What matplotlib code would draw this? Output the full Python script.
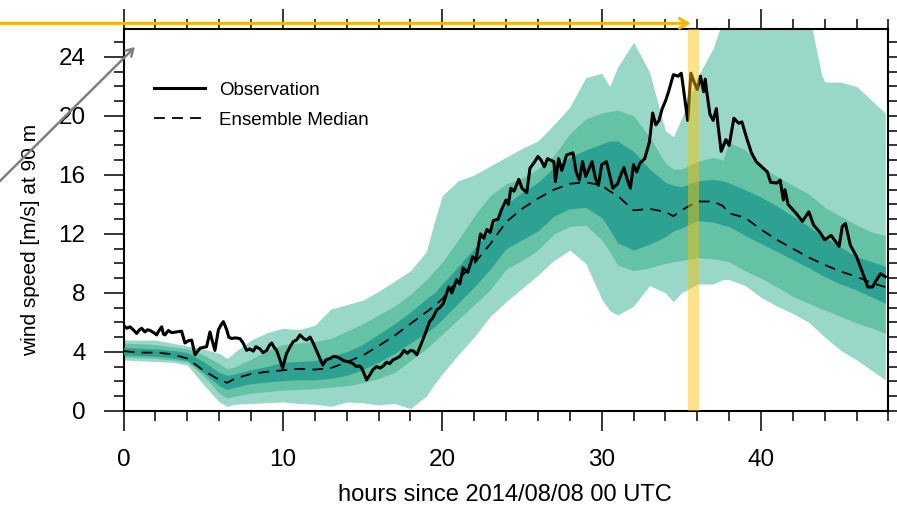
import matplotlib
matplotlib.use('Agg')
import matplotlib.pyplot as plt
from matplotlib.ticker import MultipleLocator
from matplotlib.lines import Line2D

plt.rcParams['font.family'] = ['Liberation Sans', 'DejaVu Sans']

# ---- ensemble spread (percentile envelopes) ----
band_hr = [0, 1, 2, 3, 4, 5, 6, 6.5, 7, 8, 9, 10, 11, 12, 13, 14, 15, 16, 17, 18, 19, 19.5,
    20, 21, 22, 23, 24, 25, 26, 27, 28, 29, 30, 30.5, 31, 32, 33, 34, 34.5, 35, 36, 37, 37.6,
    38, 39, 40, 41, 42, 43, 43.8, 44, 45, 46, 47, 47.8]
outer_hi = [4.8, 4.8, 4.8, 4.6, 4.4, 4.2, 3.9, 3.55, 4.0, 4.8, 5.3, 5.6, 5.5, 5.8, 6.9, 7.2, 7.5,
    8.1, 8.8, 9.5, 10.8, 12.8, 14.6, 15.6, 16.0, 16.6, 17.2, 17.8, 18.3, 19.4, 20.6, 22.6, 22.9,
    22.0, 23.3, 25.0, 23.0, 19.0, 18.6, 19.8, 22.6, 24.6, 26.5, 28.0, 28.0, 28.0, 28.0, 28.0,
    27.0, 22.8, 22.3, 22.3, 22.0, 21.0, 20.2]
mid_hi = [4.6, 4.55, 4.5, 4.35, 4.2, 3.8, 3.2, 2.85, 3.0, 3.5, 4.1, 4.5, 4.6, 4.7, 4.9, 5.4, 5.9,
    6.5, 7.1, 7.9, 8.9, 9.5, 10.1, 11.6, 13.2, 14.6, 15.4, 15.8, 16.4, 17.3, 18.8, 19.8, 20.2,
    20.3, 20.4, 20.0, 18.6, 16.8, 16.4, 16.4, 16.9, 17.2, 17.0, 18.2, 17.7, 16.6, 15.9, 15.3,
    14.7, 14.0, 13.8, 13.2, 12.6, 12.1, 11.9]
inner_hi = [4.3, 4.25, 4.2, 4.1, 3.95, 3.35, 2.6, 2.4, 2.5, 2.8, 3.0, 3.3, 3.35, 3.4, 3.7, 4.0,
    4.5, 5.2, 5.9, 6.7, 7.6, 8.0, 8.6, 9.8, 11.0, 12.2, 14.0, 14.8, 15.5, 16.5, 17.2, 17.7, 18.1,
    18.3, 18.3, 17.6, 16.4, 15.5, 15.3, 15.2, 15.6, 15.7, 15.6, 15.45, 15.0, 14.5, 13.9, 13.2,
    12.5, 11.9, 11.8, 11.1, 10.45, 10.1, 9.8]
median = [4.05, 3.95, 3.95, 3.85, 3.55, 2.75, 2.1, 1.9, 2.2, 2.5, 2.65, 2.75, 2.85, 2.8, 2.9,
    3.3, 3.75, 4.4, 5.1, 5.9, 6.7, 7.1, 7.6, 8.9, 10.0, 11.3, 12.8, 13.7, 14.4, 15.0, 15.4, 15.5,
    15.3, 14.9, 14.6, 13.6, 13.7, 13.5, 13.2, 13.6, 14.2, 14.2, 13.9, 13.4, 13.1, 12.3, 11.6,
    11.0, 10.4, 10.0, 9.9, 9.45, 9.1, 8.65, 8.4]
inner_lo = [3.8, 3.75, 3.7, 3.6, 3.4, 2.6, 1.7, 1.45, 1.6, 1.85, 1.95, 2.05, 2.1, 2.1, 2.2, 2.4,
    2.8, 3.3, 3.9, 4.6, 5.3, 5.7, 6.2, 7.3, 8.4, 9.6, 11.0, 11.6, 12.2, 13.2, 13.7, 13.8, 13.1,
    12.3, 11.4, 10.9, 11.3, 11.8, 12.2, 12.4, 12.9, 12.8, 12.6, 12.5, 11.9, 11.35, 10.8, 10.25,
    9.7, 9.2, 9.1, 8.6, 8.2, 7.7, 7.3]
mid_lo = [3.65, 3.6, 3.55, 3.45, 3.3, 2.4, 1.2, 0.85, 1.0, 1.2, 1.3, 1.4, 1.45, 1.5, 1.6, 1.7,
    1.9, 2.2, 2.6, 3.4, 4.2, 4.7, 5.2, 6.2, 7.2, 8.2, 9.6, 10.2, 10.9, 12.0, 12.5, 12.6, 11.6,
    10.8, 9.9, 9.5, 9.7, 10.0, 10.1, 10.2, 10.4, 10.3, 10.2, 10.1, 9.5, 9.0, 8.4, 7.75, 7.3,
    6.9, 6.85, 6.4, 5.95, 5.6, 5.25]
outer_lo = [3.45, 3.4, 3.35, 3.3, 3.1, 1.8, 0.6, 0.3, 0.45, 0.5, 0.55, 0.6, 0.5, 0.45, 0.3, 0.6,
    0.55, 0.4, 0.5, 0.15, 1.0, 1.8, 2.5, 3.8, 5.0, 6.4, 7.4, 8.3, 9.2, 10.2, 10.9, 10.0, 7.6,
    6.8, 6.5, 7.1, 8.5, 8.0, 7.4, 8.0, 8.6, 8.6, 8.9, 8.9, 8.5, 7.7, 7.1, 6.6, 6.0, 5.2, 5.0,
    4.1, 3.45, 2.7, 2.1]

# ---- observed wind speed at 90 m ----
obs_hr = [0.0, 0.2, 0.4, 0.6, 0.82, 1.0, 1.13, 1.34, 1.5, 1.66, 1.9, 2.07, 2.2, 2.39, 2.5, 2.6,
    2.81, 3.02, 3.3, 3.64, 3.85, 4.06, 4.27, 4.48, 4.8, 5.0, 5.21, 5.42, 5.6, 5.73, 5.95, 6.1,
    6.26, 6.47, 6.6, 6.78, 7.0, 7.3, 7.5, 7.72, 7.9, 8.14, 8.3, 8.56, 8.75, 8.98, 9.15, 9.29,
    9.45, 9.6, 9.8, 9.98, 10.1, 10.23, 10.45, 10.65, 10.85, 11.07, 11.3, 11.49, 11.7, 11.9,
    12.1, 12.3, 12.5, 12.7, 12.95, 13.2, 13.4, 13.6, 13.8, 14.0, 14.2, 14.4, 14.6, 14.8, 14.94,
    15.1, 15.25, 15.46, 15.65, 15.88, 16.1, 16.3, 16.5, 16.7, 16.9, 17.1, 17.35, 17.6, 17.8,
    18.0, 18.2, 18.4, 18.7, 18.95, 19.2, 19.4, 19.65, 19.85, 20.07, 20.25, 20.4, 20.6, 20.9,
    21.1, 21.3, 21.6, 21.9, 22.1, 22.4, 22.6, 22.8, 23.0, 23.2, 23.5, 23.7, 24.0, 24.15, 24.3,
    24.5, 24.8, 25.0, 25.3, 25.5, 25.8, 26.0, 26.2, 26.4, 26.6, 27.0, 27.1, 27.3, 27.5, 27.8,
    28.2, 28.4, 28.6, 28.8, 29.0, 29.4, 29.6, 29.8, 30.0, 30.3, 30.5, 30.7, 31.0, 31.2, 31.4,
    31.6, 31.8, 32.0, 32.2, 32.4, 32.7, 33.0, 33.2, 33.4, 33.6, 33.8, 34.0, 34.2, 34.5, 34.8,
    35.0, 35.2, 35.4, 35.6, 35.8, 36.0, 36.2, 36.4, 36.5, 36.6, 36.8, 37.0, 37.2, 37.3, 37.5,
    37.8, 38.0, 38.3, 38.6, 38.8, 39.1, 39.4, 39.7, 40.0, 40.4, 40.6, 41.0, 41.2, 41.4, 41.5,
    41.7, 42.2, 42.6, 43.0, 43.3, 43.7, 44.0, 44.4, 44.9, 45.1, 45.3, 45.6, 46.0, 46.4, 46.7,
    47.0, 47.2, 47.5, 47.8]
obs_ws = [5.8, 5.6, 5.7, 5.5, 5.25, 5.5, 5.6, 5.35, 5.5, 5.45, 5.3, 5.15, 5.4, 5.7, 5.2, 5.15,
    5.45, 5.3, 5.35, 5.4, 4.6, 4.75, 4.8, 3.8, 4.25, 4.3, 4.35, 5.35, 4.6, 4.1, 5.5, 5.8,
    6.05, 5.5, 5.0, 4.9, 4.95, 4.9, 4.6, 4.1, 4.2, 4.05, 4.35, 4.2, 3.95, 4.1, 4.45, 4.6,
    4.3, 4.1, 3.5, 2.9, 3.4, 3.9, 4.35, 4.7, 4.8, 5.15, 4.9, 4.8, 5.0, 4.6,
    4.1, 3.6, 3.1, 3.45, 3.55, 3.7, 3.65, 3.55, 3.4, 3.35, 3.3, 3.2, 3.0, 3.05, 2.9,
    2.5, 2.1, 2.45, 2.8, 3.0, 2.9, 3.05, 3.3, 3.2, 3.45, 3.55, 3.7, 4.1, 3.9,
    4.1, 4.05, 3.8, 4.6, 5.3, 6.05, 6.3, 6.85, 7.0, 7.3, 7.9, 8.4, 8.0, 8.9,
    8.6, 9.7, 9.4, 10.45, 10.2, 12.0, 11.7, 12.3, 12.1, 12.9, 13.0, 13.6, 14.3, 14.0, 15.1,
    14.9, 15.7, 15.1, 14.8, 16.45, 16.9, 17.25, 17.0, 16.55, 17.1, 16.9, 15.55, 17.1, 16.3, 17.35,
    17.5, 16.2, 15.65, 16.9, 15.9, 16.9, 15.8, 15.3, 16.7, 16.9, 16.0, 15.1, 15.4, 16.0, 16.5,
    15.7, 15.1, 16.7, 16.2, 16.8, 17.1, 18.25, 20.2, 19.4, 19.7, 20.5, 21.0, 21.65, 22.8, 22.7,
    22.9, 21.3, 19.7, 22.9, 22.3, 21.8, 22.7, 21.65, 22.5, 21.6, 20.1, 19.7, 20.5, 19.4, 17.6,
    18.4, 18.0, 19.85, 19.5, 19.6, 18.5, 17.5, 16.9, 16.6, 16.2, 15.5, 15.45, 15.65, 14.3, 15.0,
    14.0, 13.4, 12.85, 13.5, 12.6, 12.1, 11.6, 11.9, 11.15, 12.5, 12.7, 11.25, 10.45, 9.3, 8.4,
    8.4, 8.8, 9.3, 9.1]

# highlighted time window [h]
mark_t0, mark_t1 = 35.4, 36.1

fig = plt.figure(figsize = (8.97, 5.05), dpi = 100)
ax = fig.add_axes([0.1378, 0.1865, 0.8527, 0.7561])

ax.fill_between(band_hr, outer_lo, outer_hi, color = '#99d8c9', lw = 0, zorder = 1)
ax.fill_between(band_hr, mid_lo, mid_hi, color = '#66c2a4', lw = 0, zorder = 2)
ax.fill_between(band_hr, inner_lo, inner_hi, color = '#2ea292', lw = 0, zorder = 3)
ax.plot(band_hr, median, color = 'black', lw = 1.3, dashes = (6, 4), zorder = 4)
ax.plot(obs_hr, obs_ws, color = 'black', lw = 2.2, zorder = 5)
ax.axvspan(mark_t0, mark_t1, color = '#ffc000', alpha = 0.45, lw = 0, zorder = 6)

ax.set_xlim(0, 48)
ax.set_ylim(0, 25.9)
ax.xaxis.set_major_locator(MultipleLocator(10))
ax.xaxis.set_minor_locator(MultipleLocator(2))
ax.yaxis.set_major_locator(MultipleLocator(4))
ax.yaxis.set_minor_locator(MultipleLocator(1))
ax.tick_params(which = 'both', direction = 'out', top = True, right = True, width = 1.1,
    labelsize = 17.5, pad = 13)
ax.tick_params(which = 'major', length = 14.4)
ax.tick_params(which = 'minor', length = 7.2)
for s in ax.spines.values():
    s.set_linewidth(1.5)

ax.set_xlabel('hours since 2014/08/08 00 UTC', fontsize = 17)
ax.xaxis.set_label_coords(0.4986, -0.192)
ax.set_ylabel('wind speed [m/s] at 90 m', fontsize = 15)
ax.yaxis.set_label_coords(-0.109, 0.447)

handles = [Line2D([], [], color = 'black', lw = 2.2),
    Line2D([], [], color = 'black', lw = 1.3, dashes = (6, 4))]
ax.legend(handles, ['Observation', 'Ensemble Median'], loc = 'upper left',
    bbox_to_anchor = (0.04, 0.862), frameon = False, fontsize = 13.5, borderpad = 0,
    borderaxespad = 0, handlelength = 2.7, handletextpad = 0.75, labelspacing = 0.68)

# pointers drawn over the figure
fig.add_artist(matplotlib.patches.FancyArrowPatch((0.0, 0.9538), (0.770, 0.9538),
    transform = fig.transFigure, arrowstyle = '->,head_length=6,head_width=3.5',
    color = '#ffb300', lw = 2.2, shrinkA = 0, shrinkB = 0))
fig.add_artist(matplotlib.patches.FancyArrowPatch((0.0, 1 - 181/505), (135/897, 1 - 47/505),
    transform = fig.transFigure, arrowstyle = '->,head_length=5,head_width=3',
    color = '#808080', lw = 1.8, shrinkA = 0, shrinkB = 0))
# bottom of a heading letter that sits above the figure edge
fig.text(0.834, 1.0145, 'g', fontsize = 24, ha = 'center', va = 'baseline')

plt.savefig('out.png', dpi = 100)
